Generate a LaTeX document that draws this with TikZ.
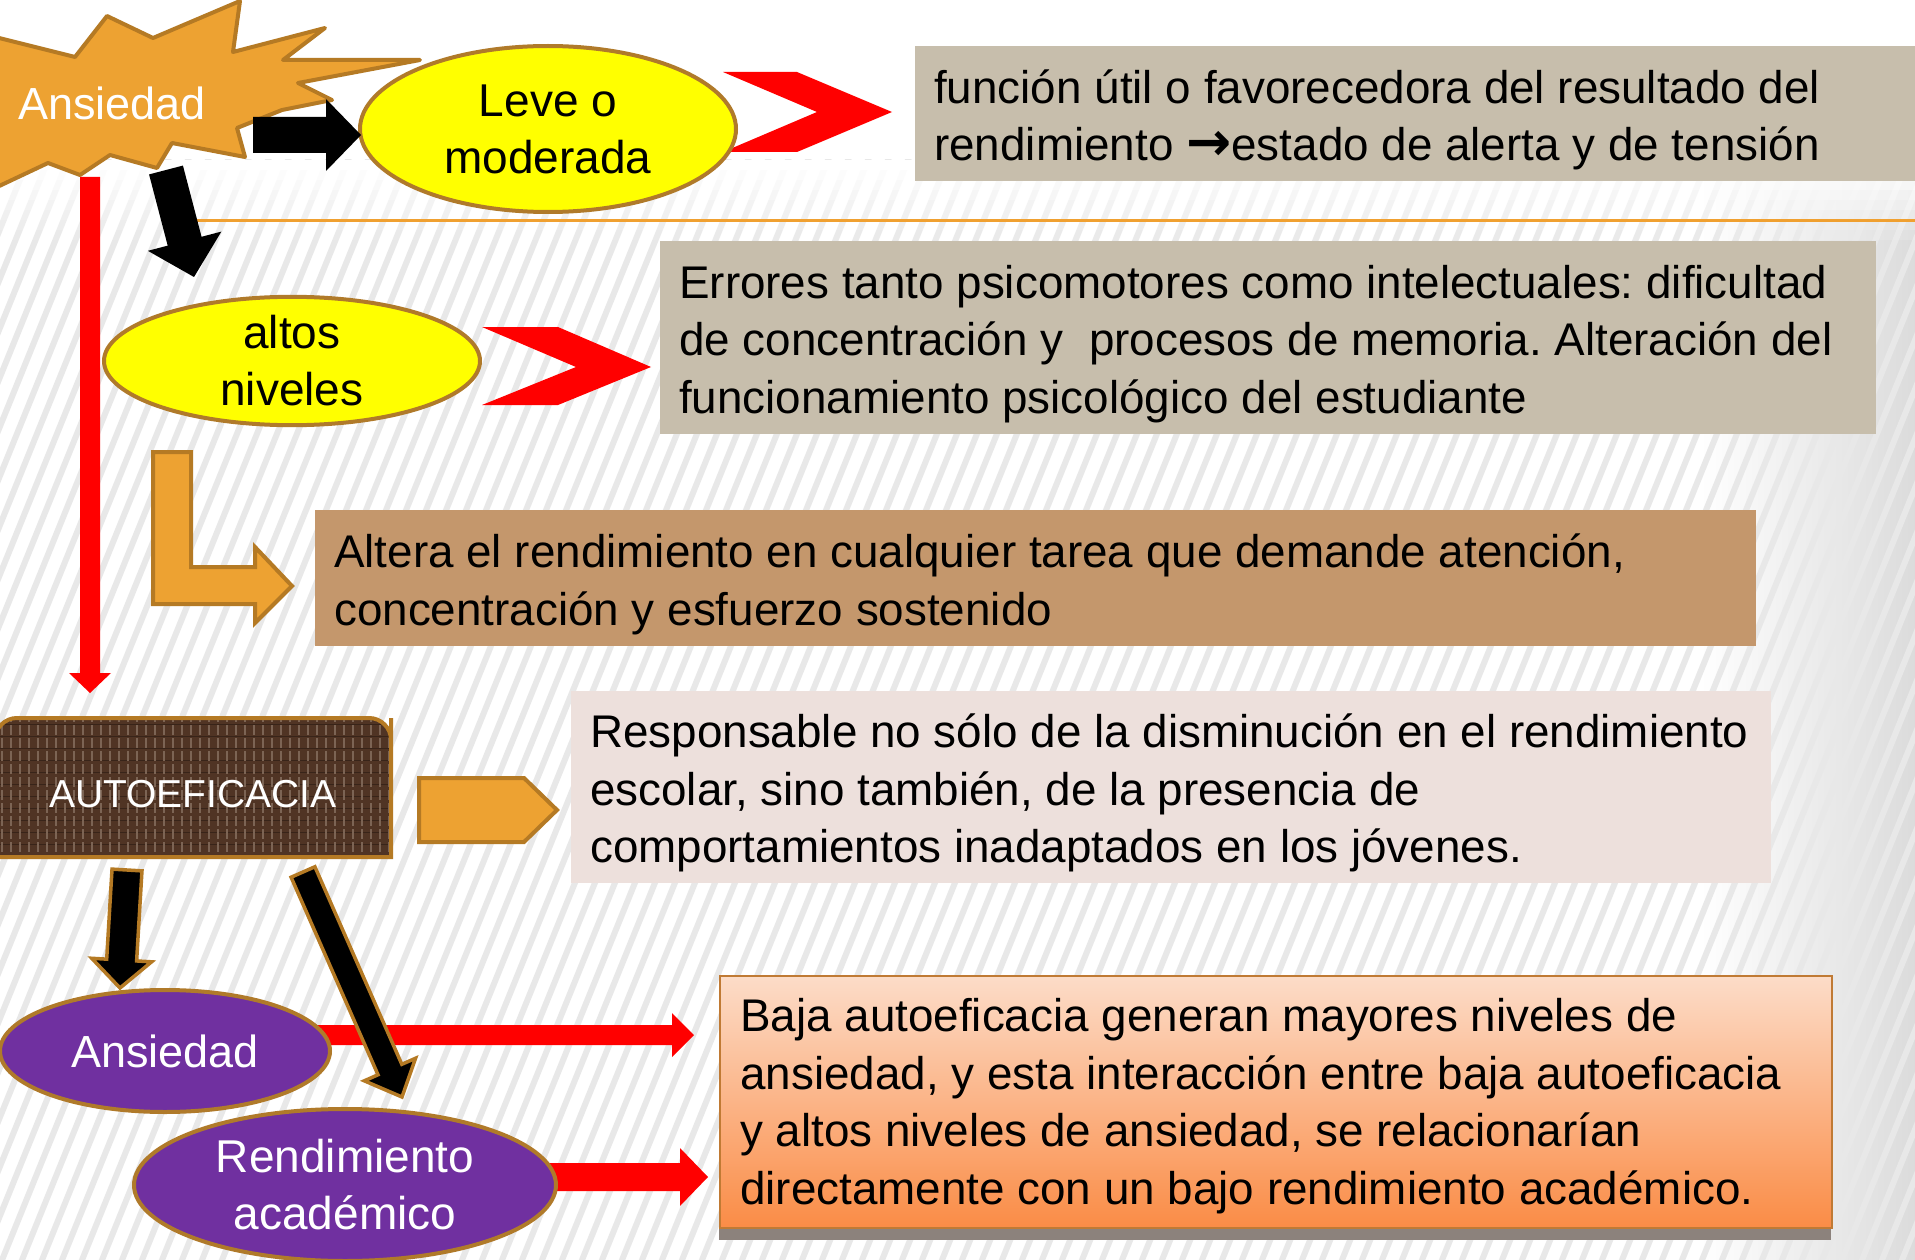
\documentclass[tikz,border=0pt]{standalone}
\usepackage{fontspec}
\setmainfont{Liberation Sans}
\newfontfamily\djv{DejaVu Sans}
\usetikzlibrary{calc,shapes.geometric}
\definecolor{orfill}{HTML}{EDA232}
\definecolor{orbrown}{HTML}{B57A24}
\definecolor{ellbrown}{HTML}{B07A2A}
\definecolor{yelfill}{HTML}{FFFF00}
\definecolor{purfill}{HTML}{7030A0}
\definecolor{redc}{HTML}{FF0000}
\definecolor{grayboxc}{HTML}{C7BEAC}
\definecolor{tanboxc}{HTML}{C4976C}
\definecolor{pinkboxc}{HTML}{EDE0DC}
\definecolor{peachtop}{HTML}{FCDCC8}
\definecolor{peachbot}{HTML}{FA8C46}
\definecolor{peachborder}{HTML}{C07A34}
\definecolor{shadowc}{HTML}{8C827C}
\definecolor{autofill}{HTML}{503424}
\definecolor{autothread}{HTML}{7C6454}
\definecolor{sepline}{HTML}{F0A030}
\newcommand\myBodyFont{\fontsize{45.8pt}{57.5pt}\selectfont\frenchspacing}
\newcommand\myEllFont{\fontsize{46pt}{57pt}\selectfont}
% block arrow: #1 style, #2 from, #3 to, #4 half shaft, #5 half head, #6 head length
\newcommand\blockarr[6]{%
  \coordinate (bmtmp) at ($(#3)!#6!(#2)$);
  \path[#1] ($(#2)!#4!90:(#3)$) -- ($(bmtmp)!#4!90:(#3)$) -- ($(bmtmp)!#5!90:(#3)$)
    -- (#3) -- ($(bmtmp)!#5!-90:(#3)$) -- ($(bmtmp)!#4!-90:(#3)$) -- ($(#2)!#4!-90:(#3)$) -- cycle;}
\begin{document}
\begin{tikzpicture}[x=1pt,y=-1pt,
  boxbase/.style={anchor=north west, inner sep=0pt},
  boxtext/.style={anchor=west, inner sep=0pt, align=left, font=\myBodyFont, text=black},
  ellbase/.style={ellipse, draw=ellbrown, line width=4pt, inner sep=0pt, align=center},
  yell/.style={ellbase, fill=yelfill, font=\myEllFont, text=black},
  purp/.style={ellbase, fill=purfill, text=white},
  chevron/.style={fill=redc},
  orangeshape/.style={fill=orfill, draw=orbrown, line width=4pt, line join=miter},
  blackarr/.style={fill=black},
  blackarrout/.style={fill=black, draw=orbrown, line width=3.5pt, line join=miter},
  redarr/.style={fill=redc},
  stripe/.style={line width=6pt, draw=black!9},
  autothr/.style={draw=autothread, line width=1.3pt, dash pattern=on 10pt off 3pt},
  autohor/.style={draw=autofill!70!black, line width=1pt}]
\useasboundingbox (0,0) rectangle (1915,1260);
% background
\fill[white] (0,0) rectangle (1915,1260);
\shade[left color=white, right color=black!14] (1700,160) rectangle (1915,1260);
\begin{scope}
  \clip (0,160) rectangle (1915,1260);
  \foreach \i in {-30,...,110} \draw[stripe] ({\i*20},1265) -- ++(450,-1110);
\end{scope}
\foreach \k in {0,...,7} \fill[white, opacity={1-\k/8}] (0,{160+\k*10}) rectangle (1915,{170+\k*10});
\draw[sepline, line width=3pt] (180,221) -- (1915,221);

% text boxes
\node[boxbase, fill=grayboxc, minimum width=1000pt, minimum height=135pt] (box1) at (915,46) {};
\node[boxtext] (t1) at ($(box1.west)+(19,6)$)
  {función útil o favorecedora del resultado del\\rendimiento {\djv\bfseries\fontsize{54pt}{57pt}\selectfont →}estado de alerta y de tensión};
\node[boxbase, fill=grayboxc, minimum width=1216pt, minimum height=193pt] (box2) at (660,241) {};
\node[boxtext] (t2) at ($(box2.west)+(19,6)$)
  {Errores tanto psicomotores como intelectuales: dificultad\\de concentración y~ procesos de memoria. Alteración del\\funcionamiento psicológico del estudiante};
\node[boxbase, fill=tanboxc, minimum width=1441pt, minimum height=136pt] (box3) at (315,510) {};
\node[boxtext] (t3) at ($(box3.west)+(19,6)$)
  {Altera el rendimiento en cualquier tarea que demande atención,\\concentración y esfuerzo sostenido};
\node[boxbase, fill=pinkboxc, minimum width=1200pt, minimum height=192pt] (box4) at (571,691) {};
\node[boxtext] (t4) at ($(box4.west)+(19,6)$)
  {Responsable no sólo de la disminución en el rendimiento\\escolar, sino también, de la presencia de\\comportamientos inadaptados en los jóvenes.};
\fill[shadowc] (719,1222) rectangle (1831,1240);
\node[boxbase, top color=peachtop, bottom color=peachbot, draw=peachborder, line width=2pt,
  minimum width=1112pt, minimum height=252pt] (box5) at (719,975) {};
\node[boxtext] (t5) at ($(box5.west)+(21,4)$)
  {Baja autoeficacia generan mayores niveles de\\ansiedad, y esta interacción entre baja autoeficacia\\y altos niveles de ansiedad, se relacionarían\\directamente con un bajo rendimiento académico.};

% red chevrons
\fill[chevron] (723,72) -- (797,72) -- (892,112) -- (797,152) -- (723,152) -- (817,112) -- cycle;
\fill[chevron] (482,327) -- (558,327) -- (651,367) -- (558,405) -- (482,405) -- (576,367) -- cycle;

% starburst Ansiedad
\draw[fill=orfill, draw=orbrown, line width=4pt, line join=round]
  (-5,37) -- (75,57) -- (107,16) -- (153,38) -- (240,1) -- (233,52) -- (325,28) -- (283,60)
  -- (420,60) -- (298,83) -- (332,100) -- (282,110) -- (237,128) -- (245,157) -- (172,143)
  -- (157,168) -- (110,155) -- (80,175) -- (48,163) -- (-5,188) -- cycle;
\node[text=white, font=\fontsize{45pt}{54pt}\selectfont, inner sep=0pt] (ans1) at (112,103) {Ansiedad};

% red vertical arrow
\coordinate (rvS) at (90,177);
\coordinate (rvT) at (90,693);
\blockarr{redarr}{rvS}{rvT}{10pt}{21pt}{20pt}

% black arrow down to altos niveles
\coordinate (bBs) at (166,170);
\coordinate (bBt) at (194,277);
\blockarr{blackarr}{bBs}{bBt}{17.5pt}{38pt}{37pt}

% ellipses
\node[yell, minimum width=376pt, minimum height=166pt] (leve) at (548,129) {Leve o\\moderada};
\node[yell, minimum width=376pt, minimum height=122pt] (altos) at (292,361) {altos\\niveles};

% black arrow right to Leve
\coordinate (bAs) at (253,135);
\coordinate (bAt) at ($(leve.west)+(3,6)$);
\blockarr{blackarr}{bAs}{bAt}{18pt}{36pt}{35pt}

% bent orange arrow
\draw[orangeshape] (153,452) -- (191,452) -- (191,567) -- (255,567) -- (255,547) -- (292,586)
  -- (255,623) -- (255,604) -- (153,604) -- cycle;
% pentagon arrow
\draw[orangeshape] (419,778) -- (524,778) -- (557,810) -- (524,842) -- (419,842) -- cycle;

% AUTOEFICACIA box
\fill[autofill] (-5,857) -- (-5,740) [rounded corners=22pt] -- (-5,718) -- (391,718) -- (391,740) [sharp corners] -- (391,857) -- cycle;
\begin{scope}
  \clip (-5,857) -- (-5,740) [rounded corners=22pt] -- (-5,718) -- (391,718) -- (391,740) [sharp corners] -- (391,857) -- cycle;
  \foreach \yy in {724,736,...,860} \draw[autohor] (-5,\yy) -- (395,\yy);
  \foreach \xx in {2,11,...,400} \draw[autothr] (\xx,712) -- (\xx,862);
\end{scope}
\draw[draw=orbrown, line width=4pt] (-5,857) -- (-5,740) [rounded corners=22pt] -- (-5,718) -- (391,718) -- (391,740) [sharp corners] -- (391,857) -- cycle;
\node[text=white, font=\fontsize{39pt}{47pt}\selectfont, inner sep=0pt] (auto) at (193,794) {AUTOEFICACIA};

% red horizontal arrows
\coordinate (rh1s) at (300,1035);
\coordinate (rh1t) at (694,1035);
\blockarr{redarr}{rh1s}{rh1t}{10pt}{22pt}{22pt}
\coordinate (rh2s) at (500,1177);
\coordinate (rh2t) at (708,1177);
\blockarr{redarr}{rh2s}{rh2t}{14pt}{29pt}{28pt}

% purple ellipses
\node[purp, minimum width=330pt, minimum height=122pt, font=\fontsize{45pt}{54pt}\selectfont] (ansp) at (165,1051) {Ansiedad};
\node[purp, minimum width=422pt, minimum height=152pt, font=\myEllFont] (rend) at (345,1185) {Rendimiento\\académico};

% outlined black arrows from AUTOEFICACIA
\coordinate (bCs) at (127,870);
\coordinate (bCt) at (120,988);
\blockarr{blackarrout}{bCs}{bCt}{15pt}{30pt}{28pt}
\coordinate (bDs) at (303,872);
\coordinate (bDt) at (402,1097);
\blockarr{blackarrout}{bDs}{bDt}{13pt}{28pt}{30pt}
\end{tikzpicture}
\end{document}
